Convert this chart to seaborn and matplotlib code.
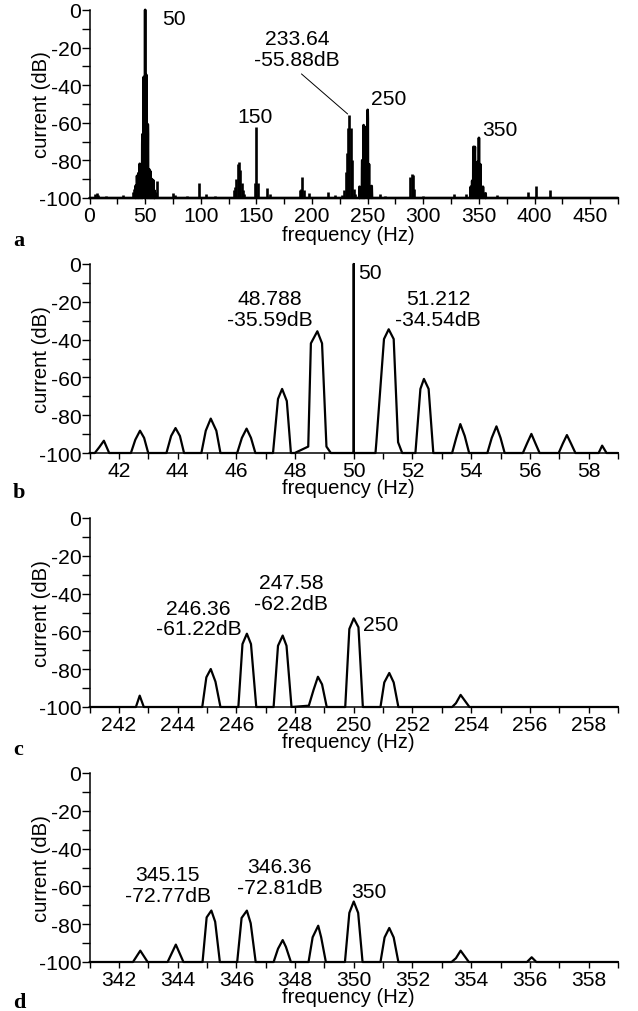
import matplotlib
matplotlib.use("Agg")
import matplotlib.pyplot as plt
from matplotlib.ticker import MultipleLocator
import seaborn as sns

# ---------------- data ----------------
# panel b : spectrum around 50 Hz (polyline samples)
b_freq = [41.0, 41.18, 41.33, 41.49, 41.67,
          42.41, 42.56, 42.72, 42.86, 43.0,
          43.62, 43.78, 43.93, 44.08, 44.22,
          44.81, 44.96, 45.13, 45.32, 45.46,
          46.03, 46.19, 46.35, 46.5, 46.65,
          47.25, 47.42, 47.56, 47.72, 47.86,
          47.99, 48.45, 48.54, 48.76, 48.92, 49.07, 49.22,
          50.0, 50.0, 50.0,
          50.74, 50.77, 51.03, 51.19, 51.36, 51.51, 51.65,
          52.1, 52.27, 52.39, 52.55, 52.71,
          53.35, 53.49, 53.63, 53.78, 53.93,
          54.55, 54.7, 54.86, 55.0, 55.14,
          55.76, 55.9, 56.05, 56.19, 56.33,
          56.98, 57.12, 57.26, 57.4, 57.55,
          58.34, 58.46, 58.61, 59.0]
b_db = [-100, -100, -97, -93.5, -100,
        -100, -93, -88.2, -92, -100,
        -100, -91, -86.8, -91, -100,
        -100, -88.2, -81.8, -88.2, -100,
        -100, -92, -87.1, -92, -100,
        -100, -71.4, -66.1, -72.5, -100,
        -100, -96.6, -42, -35.59, -42, -96.6, -100,
        -100, 0, -100,
        -100, -94.3, -39.7, -34.54, -39.7, -94.3, -100,
        -100, -66.1, -60.8, -66.1, -100,
        -100, -92, -84.7, -91, -100,
        -100, -92, -85.9, -92, -100,
        -100, -95, -89.9, -95, -100,
        -100, -95, -90.5, -95, -100,
        -100, -96.1, -100, -100]

# panel c : spectrum around 250 Hz
c_freq = [241.0, 242.58, 242.71, 242.85,
          244.84, 244.98, 245.13, 245.29, 245.46,
          246.07, 246.21, 246.36, 246.50, 246.68,
          247.27, 247.42, 247.58, 247.71, 247.88,
          248.47, 248.63, 248.78, 248.92, 249.08,
          249.71, 249.85, 250.0, 250.16, 250.31,
          250.91, 251.04, 251.21, 251.36, 251.52,
          253.35, 253.48, 253.64, 253.94, 259.0]
c_db = [-100, -100, -94, -100,
        -100, -84.3, -79.9, -86.6, -100,
        -100, -66.7, -61.22, -66.7, -100,
        -100, -67.6, -62.2, -67.6, -100,
        -99.3, -91, -84, -88, -100,
        -100, -58.7, -53.1, -57.8, -100,
        -100, -87, -82, -87, -100,
        -100, -98, -93.6, -100, -100]

# panel d : spectrum around 350 Hz
d_freq = [341.0, 342.48, 342.73, 342.98,
          343.66, 343.94, 344.2,
          344.85, 344.99, 345.15, 345.28, 345.44,
          346.03, 346.18, 346.36, 346.49, 346.66,
          347.27, 347.42, 347.58, 347.69, 347.86,
          348.46, 348.60, 348.79, 348.89, 349.05,
          349.70, 349.85, 350.0, 350.15, 350.30,
          350.91, 351.05, 351.21, 351.36, 351.52,
          353.33, 353.48, 353.64, 353.92,
          355.90, 356.06, 356.22, 359.0]
d_db = [-100, -100, -94, -100,
        -100, -90.8, -100,
        -100, -76.4, -72.77, -78.7, -100,
        -100, -76.7, -72.81, -79.5, -100,
        -100, -93, -88.4, -92, -100,
        -100, -86.9, -80.8, -86.9, -100,
        -100, -74, -68, -74, -100,
        -100, -87, -82, -87, -100,
        -100, -98, -94, -100,
        -100, -97.5, -100, -100]

# panel a : remaining spectral lines of the full spectrum
a_freq = [5.0, 6.5, 8.0, 15.0, 30.0, 39.1, 40.3, 59.7, 60.9, 75.0, 76.5, 80.0,
          85.0, 88.0, 98.0, 104.4, 113.0,
          129.5, 130.7, 131.9, 133.2, 134.4, 135.6, 136.8, 138.0, 139.2,
          148.8, 150.0, 151.2, 159.6, 162.0, 168.0, 172.0,
          189.0, 190.2, 191.4, 192.6, 197.0, 214.5, 221.0, 227.0,
          229.0, 230.2, 231.4, 232.4, 233.64, 234.85, 236.06, 237.3, 238.5,
          261.0, 266.0, 288.5, 289.7, 290.9, 292.1,
          300.0, 327.6, 338.4, 366.0, 380.0, 385.0, 390.0, 394.5, 401.4, 414.0]
a_db = [-98, -97.5, -98.5, -99, -98.3, -97, -95, -97, -91, -97.5, -98.5, -99.3,
        -99.3, -99, -92, -98, -99,
        -96, -94, -90, -82, -81, -85, -92, -96, -98,
        -92, -62.4, -92, -94.9, -98, -99.3, -99.3,
        -96, -95, -88.7, -96, -97.5, -97, -98.5, -98.5,
        -96, -86, -76, -63, -55.88, -63, -80, -95, -98,
        -98, -99.2, -89, -87, -88, -95,
        -99, -98, -98, -98.5, -99.3, -99.3, -99.3, -97, -93.8, -95.6]

a_xticks_step, b_xticks_step = 50, 2
y_ticks = [0, -20, -40, -60, -80, -100]

# ---------------- style ----------------
sns.set_style("ticks")
plt.rcParams["font.family"] = ["Liberation Sans", "DejaVu Sans"]
plt.rcParams["axes.unicode_minus"] = False
plt.rcParams["axes.edgecolor"] = "black"
plt.rcParams["axes.linewidth"] = 1.1
plt.rcParams["xtick.color"] = "black"
plt.rcParams["ytick.color"] = "black"
plt.rcParams["text.color"] = "black"
plt.rcParams["axes.labelcolor"] = "black"

FS = 15.2     # tick labels and annotations
FL = 14.6     # axis labels
LW = 1.6

fig = plt.figure(figsize=(6.38, 10.12), dpi=100)
W, H = 638.0, 1012.0
left_px, right_px = 89.5, 618.0
panels_px = [(11, 199), (265, 454), (519, 708), (774, 963)]
axes = []
for top, bot in panels_px:
    ax = fig.add_axes([left_px / W, 1 - bot / H, (right_px - left_px) / W, (bot - top) / H])
    axes.append(ax)


def style(ax, xlim, major, minor, xlab_y=-0.13):
    ax.set_xlim(*xlim)
    ax.set_ylim(-100, 0)
    ax.xaxis.set_major_locator(MultipleLocator(major))
    ax.xaxis.set_minor_locator(MultipleLocator(minor))
    ax.set_yticks(y_ticks)
    ax.yaxis.set_minor_locator(MultipleLocator(10))
    sns.despine(ax=ax)
    ax.tick_params(which="both", direction="out", width=1.0, labelsize=FS)
    ax.tick_params(axis="x", which="both", length=4.5, pad=1.0)
    ax.tick_params(axis="y", which="both", length=5.5, pad=0.3)
    ax.set_xlabel("frequency (Hz)", fontsize=FL, labelpad=0)
    ax.set_ylabel("current (dB)", fontsize=FL, labelpad=0)
    ax.xaxis.set_label_coords(0.49, xlab_y)
    ax.yaxis.set_label_coords(-0.072, 0.5)


line_kw = dict(color="black", sort=False, estimator=None, clip_on=False)

# panel a
ax = axes[0]
full_freq = b_freq + c_freq + d_freq
full_db = b_db + c_db + d_db
sns.lineplot(x=[0.0] + full_freq + [475.0], y=[-100] + full_db + [-100], ax=ax,
             linewidth=1.9, **line_kw)
ax.vlines(a_freq, -100, a_db, color="black", linewidth=1.9, clip_on=False)
style(ax, (0, 475), a_xticks_step, 25, xlab_y=-0.145)
ax.text(65.7, -4.3, "50", fontsize=FS, ha="left", va="center")
ax.text(133.2, -56.4, "150", fontsize=FS, ha="left", va="center")
ax.text(252.6, -47.3, "250", fontsize=FS, ha="left", va="center")
ax.text(352.5, -63.7, "350", fontsize=FS, ha="left", va="center")
ax.text(186.5, -20.7, "233.64\n-55.88dB", fontsize=FS, ha="center", va="center", linespacing=1.12)
ax.plot([190.5, 232.0], [-34.0, -55.3], color="black", linewidth=0.7)

# panel b
ax = axes[1]
sns.lineplot(x=b_freq, y=b_db, ax=ax, linewidth=LW, **line_kw)
style(ax, (41, 59), b_xticks_step, 1)
ax.text(47.15, -23.8, "48.788\n-35.59dB", fontsize=FS, ha="center", va="center", linespacing=1.12)
ax.text(52.87, -23.8, "51.212\n-34.54dB", fontsize=FS, ha="center", va="center", linespacing=1.12)
ax.text(50.15, -4.6, "50", fontsize=FS, ha="left", va="center")

# panel c
ax = axes[2]
sns.lineplot(x=c_freq, y=c_db, ax=ax, linewidth=LW, **line_kw)
style(ax, (241, 259), b_xticks_step, 1)
ax.text(244.72, -53.2, "246.36\n-61.22dB", fontsize=FS, ha="center", va="center", linespacing=1.12)
ax.text(247.87, -39.6, "247.58\n-62.2dB", fontsize=FS, ha="center", va="center", linespacing=1.12)
ax.text(250.31, -56.1, "250", fontsize=FS, ha="left", va="center")

# panel d
ax = axes[3]
sns.lineplot(x=d_freq, y=d_db, ax=ax, linewidth=LW, **line_kw)
style(ax, (341, 359), b_xticks_step, 1)
ax.text(343.66, -59.2, "345.15\n-72.77dB", fontsize=FS, ha="center", va="center", linespacing=1.12)
ax.text(347.47, -54.9, "346.36\n-72.81dB", fontsize=FS, ha="center", va="center", linespacing=1.12)
ax.text(349.9, -62.5, "350", fontsize=FS, ha="left", va="center")

# panel letters
for letter, base_px in zip(["a", "b", "c", "d"], [246.5, 498, 755, 1008]):
    fig.text(13 / W, 1 - base_px / H, letter, fontsize=16, fontweight="bold",
             family=["Liberation Serif", "DejaVu Serif"], ha="left", va="baseline")

fig.savefig("out.png", dpi=100)
